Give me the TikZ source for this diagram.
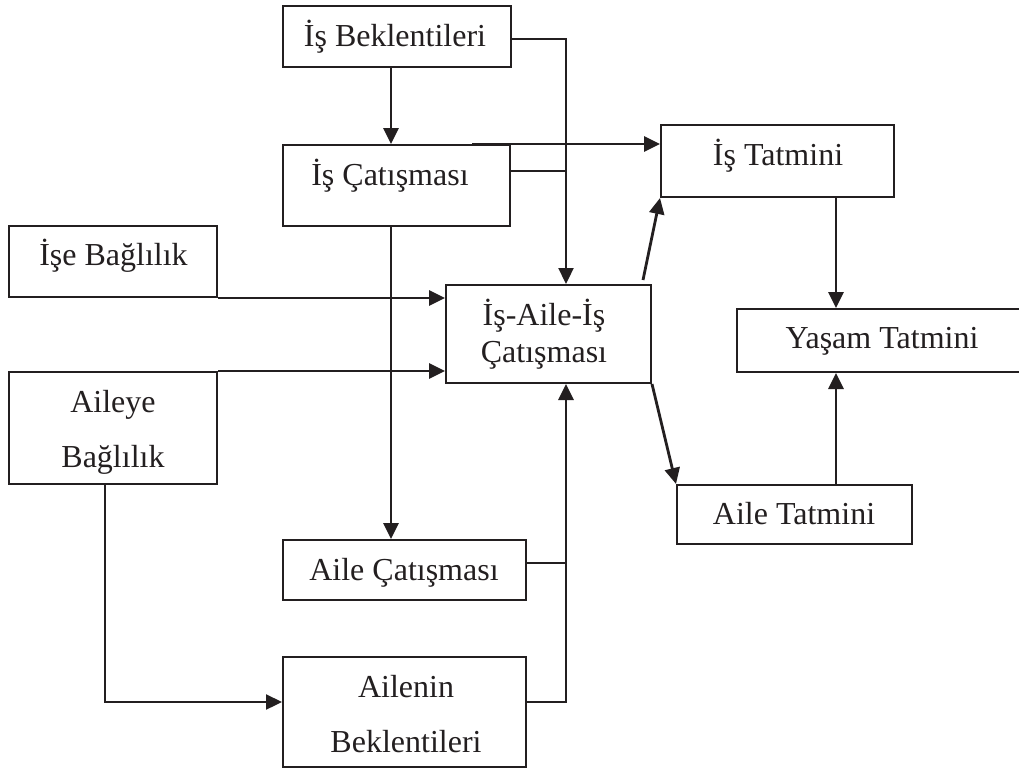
\documentclass[tikz,border=0pt]{standalone}
\usepackage{fontspec}
\setmainfont{Liberation Serif}
\usetikzlibrary{arrows.meta}
\definecolor{ink}{HTML}{231F20}
\begin{document}
\begin{tikzpicture}[x=1pt,y=-1pt,
  box/.style={draw=ink, line width=2pt, rectangle, inner sep=0pt},
  lbl/.style={inner sep=0pt, anchor=base, text=ink, font=\fontsize{32}{36}\selectfont},
  link/.style={draw=ink, line width=2.3pt},
  arr/.style={link, line width=2.8pt, -{Triangle[length=16pt,width=15pt]}}]
\useasboundingbox (0,0) rectangle (1019,771);
\clip (0,0) rectangle (1019,771);
\fill[white] (0,0) rectangle (1019,771);

% boxes
\node[box, minimum width=228pt, minimum height=61pt] (isB)  at (397,36.5) {};
\node[box, minimum width=227pt, minimum height=81pt] (isC)  at (396.5,185.5) {};
\node[box, minimum width=208pt, minimum height=71pt] (iseB) at (113,261.5) {};
\node[box, minimum width=208pt, minimum height=112pt] (ayB) at (113,428) {};
\node[box, minimum width=205pt, minimum height=98pt] (iaic) at (548.5,334) {};
\node[box, minimum width=233pt, minimum height=72pt] (isT)  at (777.5,161) {};
\node[box, minimum width=290pt, minimum height=63pt] (yT)   at (882,340.5) {};
\node[box, minimum width=235pt, minimum height=59pt] (aT)   at (794.5,514.5) {};
\node[box, minimum width=243pt, minimum height=60pt] (aC)   at (404.5,570) {};
\node[box, minimum width=243pt, minimum height=110pt] (aB)  at (404.5,712) {};

% texts
\node[lbl] (isB-t)  at (395,46)  {İş Beklentileri};
\node[lbl] (isC-t)  at (390,185) {İş Çatışması};
\node[lbl] (iseB-t) at (113.5,265) {İşe Bağlılık};
\node[lbl] (ayB-t1) at (113,412) {Aileye};
\node[lbl] (ayB-t2) at (113,467) {Bağlılık};
\node[lbl] (iaic-t1) at (544,325) {İş-Aile-İş};
\node[lbl] (iaic-t2) at (544,362) {Çatışması};
\node[lbl] (isT-t)  at (778,165) {İş Tatmini};
\node[lbl] (yT-t)   at (882,348) {Yaşam Tatmini};
\node[lbl] (aT-t)   at (794,524) {Aile Tatmini};
\node[lbl] (aC-t)   at (404,580) {Aile Çatışması};
\node[lbl] (aB-t1)  at (406,697) {Ailenin};
\node[lbl] (aB-t2)  at (406,752) {Beklentileri};

% columns and rows used by the connectors
\coordinate (colL) at (105,0);
\coordinate (colA) at (391,0);
\coordinate (colT) at (472,0);
\coordinate (bus)  at (566,0);
\coordinate (colR) at (836,0);
\coordinate (r39)  at (0,39);
\coordinate (r171) at (0,171);
\coordinate (r563) at (0,563);
\coordinate (r702) at (0,702);
\coordinate (iaOut) at (643,280);

% connectors
\draw[arr, line width=2.3pt] (isB.east |- r39) -| (bus |- iaic.north);
\draw[arr] (colA |- isB.south) -- (colA |- isC.north);
\draw[arr] (colT |- isC.north) -- (isT.west |- isC.north);
\draw[link] (isC.east |- r171) -- (bus |- r171);
\draw[arr] (colA |- isC.south) -- (colA |- aC.north);
\draw[arr] (iseB.south east) -- (iaic.west |- iseB.south east);
\draw[arr] (ayB.north east) -- (iaic.west |- ayB.north east);
\draw[arr, line width=2.3pt] (colL |- ayB.south) |- (aB.west |- r702);
\draw[link] (aC.east |- r563) -- (bus |- r563);
\draw[arr] (aB.east |- r702) -| (bus |- iaic.south);
\draw[arr] (iaOut) -- (isT.south west);
\draw[arr] (iaic.south east) -- (aT.north west);
\draw[arr] (colR |- isT.south) -- (colR |- yT.north);
\draw[arr] (colR |- aT.north) -- (colR |- yT.south);
\end{tikzpicture}
\end{document}
